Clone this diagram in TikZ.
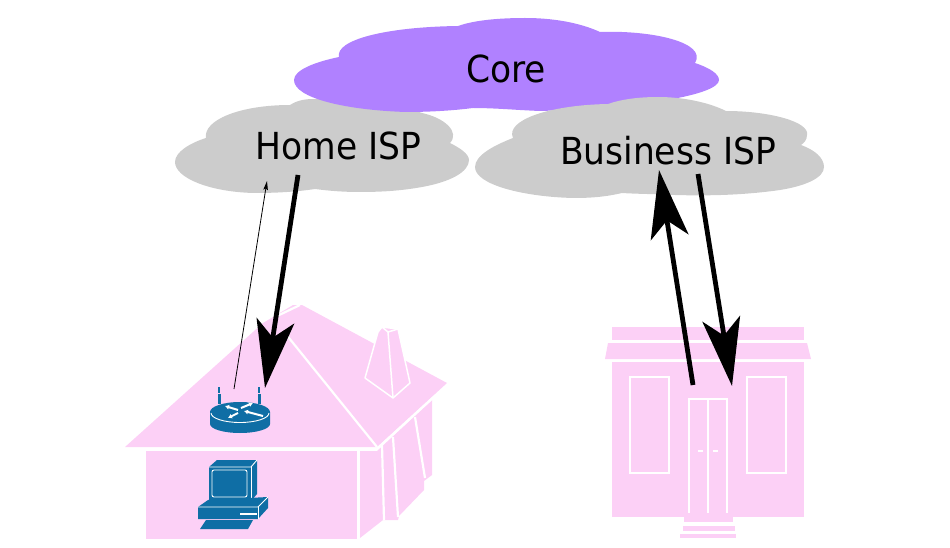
\documentclass[tikz,border=0pt]{standalone}
\usepackage{fontspec}
\usepackage{graphicx}
\setmainfont{DejaVu Sans}
\usetikzlibrary{arrows.meta}
\definecolor{pinkfill}{HTML}{FCD0F6}
\definecolor{purplefill}{HTML}{B081FF}
\definecolor{greyfill}{HTML}{CCCCCC}
\definecolor{ciscoblue}{HTML}{0F6EA5}
\newcommand{\cloudtext}[1]{\scalebox{1}[1.08]{#1}}
\tikzset{
  x=1pt,y=-1pt,
  cloudlabel/.style={font=\fontsize{34.5}{40}\selectfont,text=black,inner sep=0pt,anchor=center},
  bigflow/.style={line width=4.8pt,black,-{Stealth[length=68pt,width=38pt,inset=17pt]}},
  smallflow/.style={line width=0.8pt,black,-{Stealth[length=9pt,width=4.5pt,inset=1.5pt]}},
  wline/.style={white,line width=2.2pt},
  wthin/.style={white,line width=0.9pt},
  pk/.style={fill=pinkfill,draw=none},
  bl/.style={fill=ciscoblue,draw=none},
}
\begin{document}
\begin{tikzpicture}
\useasboundingbox (0,0) rectangle (950,548);
% home cloud, under the core
\fill[greyfill] (175,162) .. controls (175,152) and (190,143) .. (206,138)
  .. controls (203,120) and (240,105) .. (290,105)
  .. controls (298,100) and (305,99) .. (315,99)
  .. controls (345,99) and (395,103) .. (422,113)
  .. controls (445,118) and (460,132) .. (450,143)
  .. controls (460,148) and (469,154) .. (469,160)
  .. controls (469,172) and (450,182) .. (422,187)
  .. controls (400,191) and (380,192) .. (359,192)
  .. controls (345,192) and (330,191) .. (315,189)
  .. controls (295,192) and (275,193) .. (254,193)
  .. controls (210,192) and (175,178) .. (175,162) -- cycle;
% core cloud
\fill[purplefill] (294,80) .. controls (294,70) and (315,62) .. (339,57)
  .. controls (335,40) and (385,27) .. (458,26)
  .. controls (475,20) and (500,18) .. (525,18)
  .. controls (560,18) and (585,25) .. (600,32)
  .. controls (650,30) and (708,42) .. (695,63)
  .. controls (710,68) and (719,74) .. (719,80)
  .. controls (719,95) and (640,108) .. (540,111)
  .. controls (515,110) and (495,108) .. (473,108)
  .. controls (450,111) and (425,112) .. (406,112)
  .. controls (345,110) and (294,98) .. (294,80) -- cycle;
% business cloud, over the core
\fill[greyfill] (475,167) .. controls (475,155) and (495,145) .. (513,138)
  .. controls (505,120) and (550,105) .. (608,104)
  .. controls (622,99) and (640,97) .. (658,97)
  .. controls (685,97) and (710,103) .. (726,111)
  .. controls (770,111) and (810,122) .. (807,135)
  .. controls (807,140) and (804,143) .. (801,145)
  .. controls (815,150) and (824,158) .. (824,167)
  .. controls (824,178) and (805,186) .. (780,190)
  .. controls (745,195) and (710,196) .. (675,195)
  .. controls (655,194) and (638,194) .. (622,193)
  .. controls (605,197) and (590,198) .. (574,198)
  .. controls (525,197) and (475,185) .. (475,167) -- cycle;
\node[cloudlabel] (core) at (506,69) {\cloudtext{Core}};
\node[cloudlabel] (homeisp) at (338.5,146) {\cloudtext{Home ISP}};
\node[cloudlabel] (bizisp) at (668,151) {\cloudtext{Business ISP}};
% house
\fill[pk] (125,447) -- (263,323) -- (293,305) -- (302,305) -- (447,383) -- (377,447) -- cycle;
\fill[pk] (146,451) rectangle (357,539);
\fill[pk] (360,451) -- (377,451) -- (432,400) -- (432,475) -- (424,481) -- (424,490) -- (399,516) -- (398,520) -- (383,520) -- (360,538) -- cycle;
\draw[wline] (285,333) -- (377,447);
\draw[wline] (275,317) -- (300,305);
\draw[wline] (382,445) -- (384,520);
\draw[wline] (393,437) -- (398,517);
\draw[wline] (415,417) -- (425,478);
\draw[wline] (378,448) -- (435,396);
% chimney
\draw[white,line width=1.5pt,fill=pinkfill,line join=round] (365,378) -- (378,332) -- (382,327) -- (398,329) -- (410,383) -- (393,398) -- cycle;
\draw[white,line width=1.5pt] (382,327) -- (388,332) -- (398,329);
\draw[white,line width=1.5pt] (388,332) -- (393,398);
% router
\fill[bl] (210,412) -- (210,424) arc[start angle=180,end angle=0,x radius=30,y radius=9] -- (270,412) arc[start angle=0,end angle=-180,x radius=30,y radius=10] -- cycle;
\draw[wthin] (211,413) arc[start angle=180,end angle=0,x radius=29,y radius=9.5];
\fill[bl] (217.5,394) rectangle (220.5,404);
\fill[bl] (257.5,394) rectangle (260.5,404);
\fill[bl] (217.8,387) rectangle (220.2,392.5);
\fill[bl] (257.8,387) rectangle (260.2,392.5);
\draw[white,line width=2pt,-{Latex[length=4pt,width=5pt]}] (238,410) -- (225,406);
\draw[white,line width=2pt,-{Latex[length=4pt,width=5pt]}] (241,408) -- (253,403);
\draw[white,line width=2pt,-{Latex[length=4pt,width=5pt]}] (238,413) -- (228,418);
\draw[white,line width=2pt,-{Latex[length=4pt,width=5pt]}] (263,416) -- (244,411);
% computer
\fill[bl] (209,467) -- (217,460) -- (257,460) -- (257,494) -- (251,501) -- (209,501) -- cycle;
\draw[wthin,rounded corners=2pt] (212,470) rectangle (247,497);
\draw[wthin] (209,467) -- (251,467) -- (257,460);
\draw[wthin] (251,467) -- (251,501);
\fill[bl] (198,507) -- (208,500) -- (268,497) -- (268,508) -- (258,519) -- (198,519) -- cycle;
\draw[wthin] (198,507) -- (258,507) -- (268,497);
\draw[wthin] (258,507) -- (258,519);
\draw[white,line width=1.3pt] (240,514) -- (257,514);
\fill[bl] (206,520) -- (253,520) -- (248,529) -- (200,529) -- cycle;
% business building
\fill[pk] (612,327) rectangle (804,340);
\fill[pk] (608,343) -- (807,343) -- (811,359) -- (605,359) -- cycle;
\fill[pk] (612,362) rectangle (804,517);
\draw[wline] (630,377) rectangle (669,473);
\draw[wline] (747,377) rectangle (786,473);
\draw[wline] (689,513) -- (689,399) -- (727,399) -- (727,513);
\draw[wline] (708,399) -- (708,513);
\draw[wline] (698,451) -- (703,451);
\draw[wline] (713,451) -- (718,451);
\fill[pk] (684,516) rectangle (733,522);
\fill[pk] (683,526) rectangle (735,531);
\fill[pk] (680,534) rectangle (736,538);
% connectors
\coordinate (homeup) at (234,389);
\coordinate (hometop) at (267,181);
\coordinate (homefrom) at (298,175);
\coordinate (homerouter) at (265,388);
\coordinate (bizup) at (693,385);
\coordinate (biztip) at (659,170);
\coordinate (bizfrom) at (698,174);
\coordinate (bizdoor) at (732,386);
\draw[smallflow] (homeup) -- (hometop);
\draw[bigflow] (homefrom) -- (homerouter);
\draw[bigflow] (bizup) -- (biztip);
\draw[bigflow] (bizfrom) -- (bizdoor);
\end{tikzpicture}
\end{document}
